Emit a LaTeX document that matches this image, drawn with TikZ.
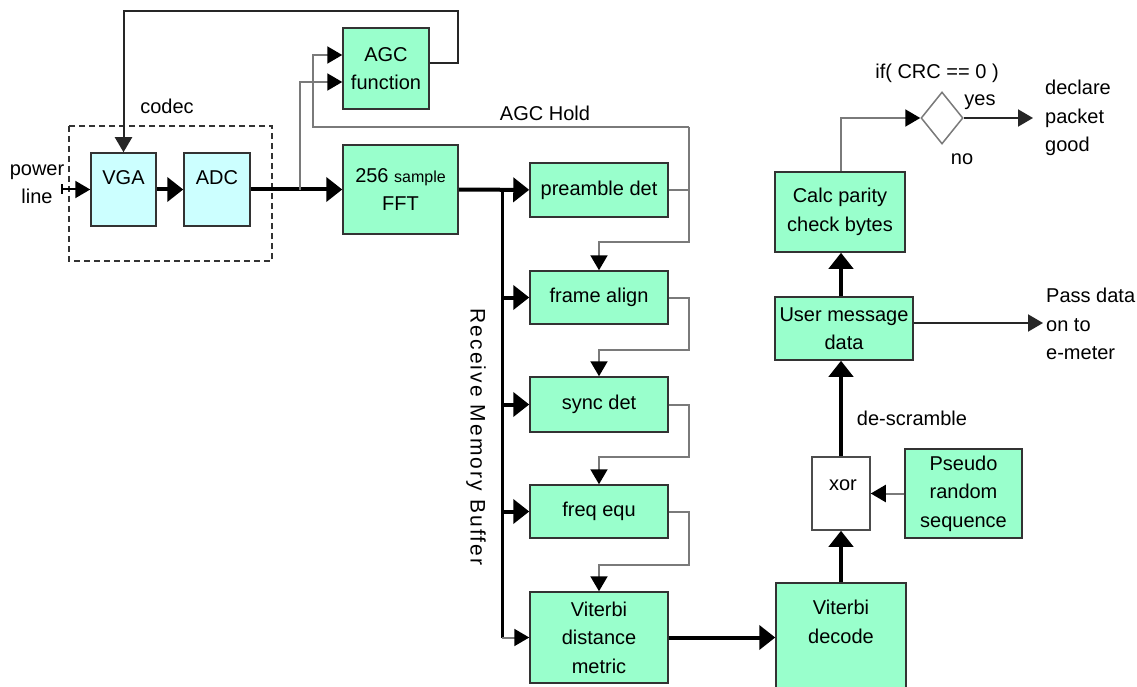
\documentclass[tikz,border=0pt]{standalone}
\usepackage{fontspec}
\setmainfont{Liberation Sans}
\usetikzlibrary{arrows.meta,shapes.geometric}
\definecolor{mint}{HTML}{99FFCC}
\definecolor{paleblue}{HTML}{CCFFFF}
\definecolor{wire}{HTML}{7A7A7A}
\begin{document}
\begin{tikzpicture}[x=1pt,y=-1pt,
  font=\fontsize{20}{28.5}\selectfont,
  gbox/.style={draw=black!80,line width=1.5pt,fill=mint,align=center,inner sep=0pt},
  cbox/.style={draw=black!80,line width=1.5pt,fill=paleblue,align=center,inner sep=0pt},
  wbox/.style={draw=black!70,line width=1.5pt,fill=white,align=center,inner sep=0pt},
  txt/.style={inner sep=0pt,align=center},
  ltxt/.style={inner sep=0pt,align=left,anchor=west},
  heavy/.style={line width=4pt,-{Triangle[length=16pt,width=24pt]}},
  busline/.style={line width=3pt},
  light/.style={draw=wire,line width=2pt,-{Triangle[length=15pt,width=17pt,color=black]}},
  lightline/.style={draw=wire,line width=2pt},
  dark/.style={draw=black!85,line width=2pt,-{Triangle[length=15pt,width=17pt]}},
]
\useasboundingbox (0,0) rectangle (1137,687);
\fill[white] (0,0) rectangle (1137,687);

% codec dashed box
\draw[dashed,line width=1.5pt,black!80,dash pattern=on 6pt off 4pt] (69,126) rectangle (272,261);
\node[txt] (codec) at (167,106) {codec};

% boxes
\node[cbox,minimum width=65pt,minimum height=73pt,label={[yshift=11.5pt,inner sep=0pt]center:VGA}] (vga) at (123.5,189.5) {};
\node[cbox,minimum width=66pt,minimum height=73pt,label={[yshift=11.5pt,inner sep=0pt]center:ADC}] (adc) at (217,189.5) {};
\node[gbox,minimum width=86pt,minimum height=81pt] (agc) at (386,68.5) {AGC\\function};
\node[gbox,minimum width=115pt,minimum height=89pt] (fft) at (400.5,189.5) {256 {\fontsize{16}{20}\selectfont sample}\\FFT};
\node[gbox,minimum width=138pt,minimum height=54pt] (pre) at (599,190) {preamble det};
\node[gbox,minimum width=138pt,minimum height=53pt] (frame) at (599,297.5) {frame align};
\node[gbox,minimum width=138pt,minimum height=55pt] (sync) at (599,404.5) {sync det};
\node[gbox,minimum width=138pt,minimum height=53pt] (freq) at (599,511.5) {freq equ};
\node[gbox,minimum width=138pt,minimum height=91pt] (vdm) at (599,637.5) {Viterbi\\distance\\metric};
\node[gbox,minimum width=130pt,minimum height=140pt,label={[yshift=31pt,inner sep=0pt,align=center]center:Viterbi\\decode}] (vdec) at (841,653) {};
\node[wbox,minimum width=58pt,minimum height=73pt,label={[yshift=8pt,xshift=2pt,inner sep=0pt]center:xor}] (xor) at (841,493.5) {};
\node[gbox,minimum width=117pt,minimum height=89pt] (prs) at (963.5,493.5) {Pseudo\\random\\sequence};
\node[gbox,minimum width=138pt,minimum height=63pt] (user) at (844,328.5) {User message\\data};
\node[gbox,minimum width=130pt,minimum height=80pt] (calc) at (840,212) {Calc parity\\check bytes};
\node[diamond,draw=wire,line width=1.5pt,fill=white,minimum width=42pt,minimum height=52pt,inner sep=0pt] (crc) at (942,118) {};

% texts
\node[txt] (pwr) at (37,184) {power\\line};
\node[txt] (hold) at (545,113) {AGC Hold};
\node[txt,rotate=-90,font=\fontsize{21}{25}\selectfont\addfontfeature{LetterSpace=10}] (rmb) at (476,437) {Receive Memory Buffer};
\node[txt] (desc) at (912,418) {de-scramble};
\node[txt] (cond) at (937,73) {if( CRC == 0 )};
\node[txt] (yes) at (980,102) {yes};
\node[txt] (no) at (962,159) {no};
\node[ltxt] (good) at (1045,118) {declare\\packet\\good};
\node[ltxt] (pass) at (1046,324) {Pass data\\on to\\e-meter};

% coordinates
\coordinate (pin) at (62,189.5);
\coordinate (tap) at (300,190);
\coordinate (bus) at (502,190);
\coordinate (busend) at (502,637.5);
\coordinate (holdtop) at (689,127);
\coordinate (holdbot) at (689,242);
\coordinate (goodend) at (1033,118);
\coordinate (passend) at (1043,323);

% main path
\draw[line width=2pt,-{Triangle[length=15pt,width=17pt]}] (pin) -- (vga.west);
\draw[line width=2pt] (pin) ++(0,-5) -- ++(0,10);
\draw[heavy] (vga) -- (adc);
\draw[heavy] (adc) -- (fft);
\draw[light] (tap) |- ([yshift=-13.5pt]agc.west);
\draw[dark] (agc.east |- 0,63) -- (458,63) -- (458,11) -| (vga.north);
\draw[heavy] (fft) -- (pre);

% receive memory bus
\draw[busline] (bus) -- (busend);
\draw[heavy] (frame.west -| bus) -- (frame.west);
\draw[heavy] (sync.west -| bus) -- (sync.west);
\draw[heavy] (freq.west -| bus) -- (freq.west);
\draw[light] (busend) -- (vdm.west);

% AGC hold and chain
\draw[lightline] (pre.east) -- (pre.east -| holdtop);
\draw[light] (holdtop) -- (313,127) |- ([yshift=13.5pt]agc.west);
\draw[light] (holdtop) -- (holdbot) -| (frame.north);
\draw[light] (frame.east) -- (689,297.5) -- (689,350) -| (sync.north);
\draw[light] (sync.east) -- (689,404.5) -- (689,457) -| (freq.north);
\draw[light] (freq.east) -- (689,511.5) -- (689,565) -| (vdm.north);

% decoding
\draw[heavy] (vdm) -- (vdec.west |- vdm);
\draw[heavy] (vdec.north -| xor) -- (xor.south);
\draw[light] (prs.west) -- (xor.east);
\draw[heavy] (xor.north) -- (user.south -| xor);
\draw[heavy] (user.north -| xor) -- (calc.south -| xor);
\draw[light] (calc.north -| xor) |- (crc.west);
\draw[dark] (crc.east) -- (goodend);
\draw[dark] (user.east |- passend) -- (passend);
\end{tikzpicture}
\end{document}
